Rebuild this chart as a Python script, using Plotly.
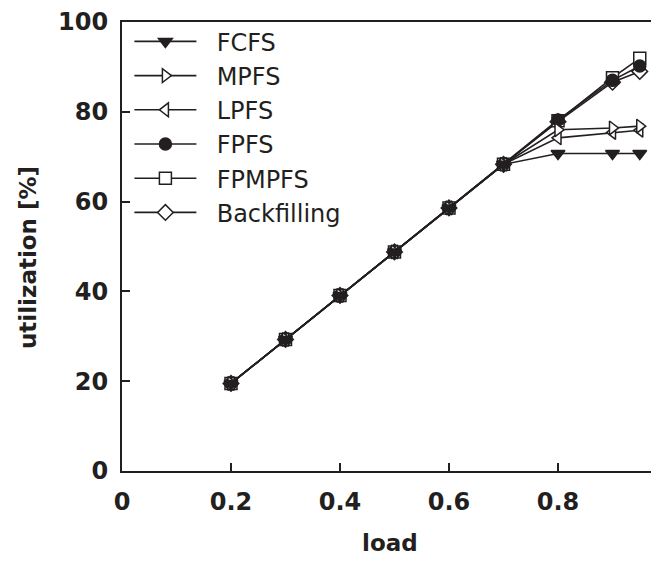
import plotly.graph_objects as go

load = [0.2, 0.3, 0.4, 0.5, 0.6, 0.7, 0.8, 0.9, 0.95]
fcfs = [19.5, 29.3, 39.1, 48.8, 58.6, 68.3, 70.7, 70.7, 70.7]
mpfs = [19.5, 29.3, 39.1, 48.8, 58.6, 68.3, 76.0, 76.4, 76.8]
lpfs = [19.5, 29.3, 39.1, 48.8, 58.6, 68.3, 74.2, 75.4, 75.9]
fpfs = [19.5, 29.3, 39.1, 48.8, 58.6, 68.3, 78.2, 87.0, 90.2]
fpmpfs = [19.5, 29.3, 39.1, 48.8, 58.6, 68.3, 78.0, 87.6, 91.9]
backfilling = [19.5, 29.3, 39.1, 48.8, 58.6, 68.3, 77.8, 86.6, 89.0]

series = [
    ("FCFS", fcfs, "triangle-down", "black"),
    ("MPFS", mpfs, "triangle-right", "white"),
    ("LPFS", lpfs, "triangle-left", "white"),
    ("FPFS", fpfs, "circle", "black"),
    ("FPMPFS", fpmpfs, "square", "white"),
    ("Backfilling", backfilling, "diamond", "white"),
]

x_ticks = [0, 0.2, 0.4, 0.6, 0.8]
x_tick_text = ["0", "0.2", "0.4", "0.6", "0.8"]
y_ticks = [0, 20, 40, 60, 80, 100]

INK = "#231f20"
NBSP = "\u00a0\u00a0"

fig = go.Figure()
# draw in reverse so the filled markers sit on top, keep legend order via legendrank
for i in reversed(range(len(series))):
    name, vals, sym, fill = series[i]
    fig.add_trace(go.Scatter(
        x=load, y=vals, name=NBSP + name, mode="lines+markers",
        legendgroup=f"g{i}", legendrank=i + 1,
        line=dict(color=INK, width=1.6),
        marker=dict(symbol=sym, size=12, color=fill if fill == "white" else INK,
                    line=dict(color=INK, width=1.5)),
    ))

tickfont = dict(family="DejaVu Sans", size=24, color=INK, weight="bold")
fig.update_layout(
    width=651, height=562,
    margin=dict(l=122, r=0, t=22, b=91),
    paper_bgcolor="white", plot_bgcolor="white",
    showlegend=True,
    legend=dict(x=0.014, y=1.006, xanchor="left", yanchor="top",
                font=dict(family="DejaVu Sans", size=24, color=INK),
                itemwidth=62, tracegroupgap=0, bgcolor="rgba(0,0,0,0)"),
    xaxis=dict(range=[0, 529/545], tickvals=x_ticks, ticktext=x_tick_text,
               ticks="inside", ticklen=8, tickwidth=1.5, tickcolor=INK,
               showline=True, linewidth=2, linecolor=INK, mirror=True,
               showgrid=False, zeroline=False, tickfont=tickfont,
               ticklabelstandoff=8),
    yaxis=dict(range=[0, 100], tickvals=y_ticks,
               ticks="inside", ticklen=8, tickwidth=1.5, tickcolor=INK,
               showline=True, linewidth=2, linecolor=INK,
               showgrid=False, zeroline=False, tickfont=tickfont,
               ticklabelstandoff=7),
    annotations=[
        dict(text="load", xref="paper", yref="paper", x=0.5066, y=-0.16,
             xanchor="center", yanchor="middle", showarrow=False,
             font=dict(family="DejaVu Sans", size=23, color=INK, weight="bold")),
        dict(text="utilization [%]", xref="paper", yref="paper", x=-0.1786, y=0.4755,
             xanchor="center", yanchor="middle", showarrow=False, textangle=-90,
             font=dict(family="DejaVu Sans", size=23, color=INK, weight="bold")),
    ],
)

fig.write_html("out.html")
